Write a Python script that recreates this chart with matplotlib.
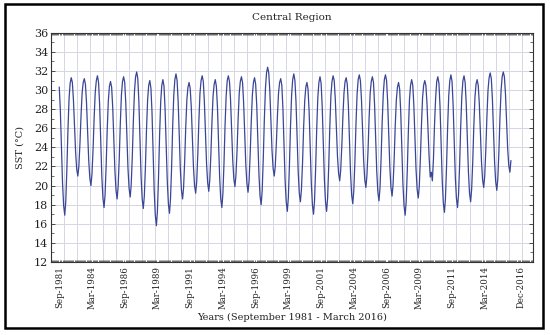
import numpy as np
import matplotlib
matplotlib.use('Agg')
import matplotlib.pyplot as plt
import matplotlib.dates as mdates
import pandas as pd
from matplotlib.patches import Rectangle

plt.rcParams['font.family'] = 'DejaVu Serif'

# monthly SST (deg C), Sep 1981 - Mar 2016, one row per calendar year
sst_rows = [
    [30.3, 27.9, 24.0, 20.3],  # 1981 Sep-Dec
    [17.9, 16.9, 18.3, 21.7, 25.8, 29.1, 30.7, 31.3, 30.8, 29.0, 26.2, 23.5],
    [21.7, 21.0, 22.0, 24.4, 27.3, 29.7, 30.8, 31.2, 30.6, 28.7, 25.6, 22.7],
    [20.8, 20.0, 21.2, 23.8, 27.1, 29.8, 31.0, 31.5, 30.8, 28.5, 24.6, 21.0],
    [18.7, 17.7, 19.0, 22.1, 25.9, 28.9, 30.4, 30.9, 30.3, 28.2, 24.8, 21.6],
    [19.5, 18.6, 19.9, 22.8, 26.5, 29.5, 30.9, 31.4, 30.8, 28.6, 25.1, 21.8],
    [19.7, 18.8, 20.1, 23.1, 26.9, 29.9, 31.4, 31.9, 31.2, 28.8, 24.8, 21.0],
    [18.6, 17.6, 18.9, 22.0, 25.9, 29.0, 30.5, 31.0, 30.2, 27.7, 23.4, 19.5],
    [16.9, 15.8, 17.3, 20.9, 25.3, 28.8, 30.5, 31.1, 30.4, 28.0, 24.1, 20.5],
    [18.1, 17.1, 18.6, 21.9, 26.2, 29.5, 31.1, 31.7, 31.0, 28.8, 25.2, 21.7],
    [19.5, 18.6, 19.8, 22.6, 26.2, 29.0, 30.3, 30.8, 30.2, 28.3, 25.0, 22.0],
    [20.0, 19.2, 20.4, 23.3, 26.8, 29.7, 31.0, 31.5, 30.9, 28.8, 25.5, 22.3],
    [20.3, 19.4, 20.6, 23.3, 26.7, 29.4, 30.6, 31.1, 30.4, 28.2, 24.4, 20.9],
    [18.6, 17.7, 19.1, 22.3, 26.3, 29.4, 31.0, 31.5, 30.9, 29.0, 25.7, 22.7],
    [20.7, 19.9, 21.1, 23.7, 27.0, 29.7, 30.9, 31.4, 30.8, 28.7, 25.4, 22.2],
    [20.2, 19.3, 20.5, 23.3, 26.7, 29.5, 30.8, 31.3, 30.6, 28.4, 24.7, 21.2],
    [18.9, 18.0, 19.4, 22.8, 26.9, 30.2, 31.8, 32.4, 31.8, 29.9, 26.7, 23.7],
    [21.8, 21.0, 22.0, 24.4, 27.3, 29.7, 30.8, 31.2, 30.5, 28.1, 24.3, 20.6],
    [18.3, 17.3, 18.7, 22.1, 26.2, 29.5, 31.1, 31.7, 31.0, 28.8, 25.0, 21.5],
    [19.2, 18.3, 19.6, 22.4, 26.1, 28.9, 30.3, 30.8, 30.1, 27.8, 23.9, 20.3],
    [18.0, 17.0, 18.4, 21.8, 25.9, 29.2, 30.8, 31.4, 30.7, 28.3, 24.4, 20.7],
    [18.3, 17.3, 18.7, 22.0, 26.1, 29.4, 30.9, 31.5, 31.0, 29.1, 26.0, 23.1],
    [21.3, 20.5, 21.6, 24.1, 27.2, 29.7, 30.9, 31.3, 30.6, 28.4, 24.7, 21.3],
    [19.0, 18.1, 19.5, 22.6, 26.5, 29.6, 31.1, 31.6, 31.0, 29.0, 25.7, 22.6],
    [20.6, 19.8, 21.0, 23.6, 27.0, 29.7, 30.9, 31.4, 30.8, 28.5, 24.9, 21.5],
    [19.3, 18.4, 19.7, 22.8, 26.6, 29.6, 31.1, 31.6, 31.0, 28.8, 25.2, 22.0],
    [19.8, 18.9, 20.1, 22.8, 26.3, 29.0, 30.3, 30.8, 30.1, 27.7, 23.9, 20.2],
    [17.9, 16.9, 18.3, 21.6, 25.7, 29.0, 30.5, 31.1, 30.5, 28.4, 24.9, 21.7],
    [19.6, 18.7, 19.9, 22.8, 26.3, 29.2, 30.5, 31.0, 30.5, 28.7, 25.8, 23.0],
    [20.9, 21.4, 20.5, 22.8, 26.4, 29.2, 30.9, 31.4, 30.7, 28.3, 24.3, 20.6],
    [18.2, 17.2, 18.6, 22.0, 26.1, 29.4, 31.0, 31.6, 30.9, 28.5, 24.7, 21.0],
    [18.7, 17.7, 19.1, 22.3, 26.3, 29.4, 31.0, 31.5, 30.8, 28.6, 24.9, 21.5],
    [19.2, 18.3, 19.6, 22.5, 26.2, 29.2, 30.6, 31.1, 30.5, 28.6, 25.5, 22.5],
    [20.6, 19.8, 21.0, 23.8, 27.2, 30.0, 31.3, 31.8, 31.2, 29.1, 25.7, 22.5],
    [20.4, 19.5, 20.7, 23.6, 27.2, 30.0, 31.4, 31.9, 31.4, 29.6, 26.6, 23.9],
    [22.1, 21.4, 22.6],  # 2016 Jan-Mar
]
sst = [v for row in sst_rows for v in row]
months = pd.date_range('1981-09-01', periods=len(sst), freq='MS')

tick_dates = ['1981-09-01', '1984-03-01', '1986-09-01', '1989-03-01', '1991-09-01',
              '1994-03-01', '1996-09-01', '1999-03-01', '2001-09-01', '2004-03-01',
              '2006-09-01', '2009-03-01', '2011-09-01', '2014-03-01', '2016-12-01']
tick_labels = ['Sep-1981', 'Mar-1984', 'Sep-1986', 'Mar-1989', 'Sep-1991',
               'Mar-1994', 'Sep-1996', 'Mar-1999', 'Sep-2001', 'Mar-2004',
               'Sep-2006', 'Mar-2009', 'Sep-2011', 'Mar-2014', 'Dec-2016']

grid_c = '#d6d6e4'
fig = plt.figure(figsize=(5.5, 3.35), dpi=100)
ax = fig.add_axes([0.0927, 0.218, 0.876, 0.684])

# yearly vertical grid lines (January)
for yr in range(1981, 2018):
    ax.axvline(pd.Timestamp(yr, 1, 1), color=grid_c, lw=0.7, zorder=0)
ax.yaxis.grid(True, color=grid_c, lw=0.7, zorder=0)

ax.plot(months, sst, color='#3a4696', lw=0.9, zorder=3)

ax.set_xlim(pd.Timestamp('1981-01-13'), pd.Timestamp('2017-11-01'))
ax.set_ylim(12, 36)
ax.set_yticks(np.arange(12, 37, 2))
ax.yaxis.set_minor_locator(plt.MultipleLocator(1))
ax.set_xticks(pd.to_datetime(tick_dates))
ax.set_xticklabels(tick_labels, rotation=90, fontsize=6.2)
ax.xaxis.set_minor_locator(mdates.MonthLocator())

ax.tick_params(axis='both', which='both', direction='in', top=True, right=True, colors='#333333')
ax.tick_params(axis='x', which='major', length=0, pad=3)
ax.tick_params(axis='x', which='minor', length=1.5, width=0.5)
ax.tick_params(axis='y', which='major', length=3, width=0.6, labelsize=8, pad=2)
ax.tick_params(axis='y', which='minor', length=2, width=0.5)
for lab in ax.get_yticklabels():
    lab.set_color('#222222')
for lab in ax.get_xticklabels():
    lab.set_color('#222222')
for s in ax.spines.values():
    s.set_color('#333333')
    s.set_linewidth(0.8)

ax.set_ylabel('SST (°C)', fontsize=7, color='#222222', labelpad=7)
ax.set_xlabel('Years (September 1981 - March 2016)', fontsize=7, color='#222222', labelpad=3)
ax.set_title('Central Region', fontsize=7.5, color='#222222', pad=9)

fig.patches.append(Rectangle((0.009, 0.021), 0.978, 0.966, transform=fig.transFigure,
                             fill=False, edgecolor='black', lw=1.8))

fig.savefig('out.png', dpi=100)
